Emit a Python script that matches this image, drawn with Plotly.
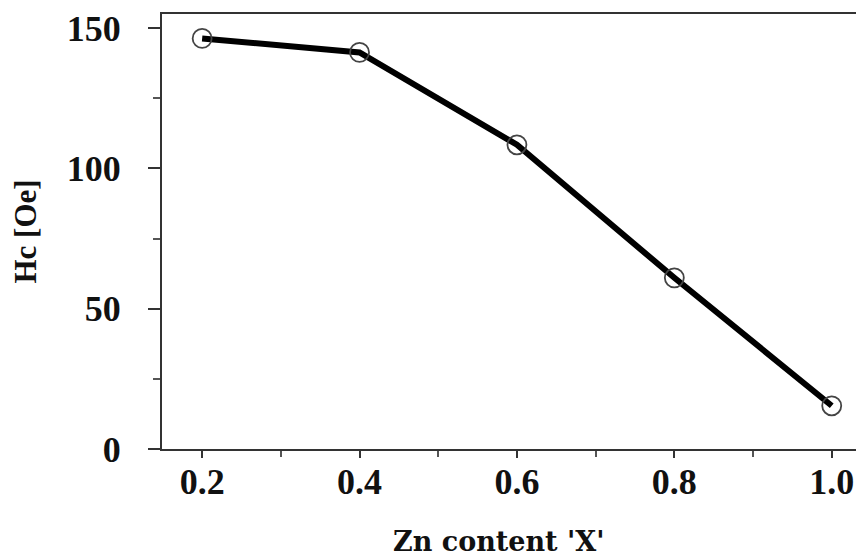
import plotly.graph_objects as go

zn_content = [0.2, 0.4, 0.6, 0.8, 1.0]
hc_oe = [146.3, 141.3, 108.4, 61.0, 15.4]
x_ticks = [0.2, 0.4, 0.6, 0.8, 1.0]
x_tick_labels = ["0.2", "0.4", "0.6", "0.8", "1.0"]
y_ticks = [0, 50, 100, 150]
y_tick_labels = ["0", "50", "100", "150"]
x_title = "Zn content 'X'"
y_title = "Hc [Oe]"

font_family = "Liberation Serif"
tick_font = dict(size=36, family=font_family, color="#111111", weight="bold")
x_range = [0.149, 1.041]

fig = go.Figure()
fig.add_trace(go.Scatter(
    x=zn_content, y=hc_oe,
    mode="lines+markers",
    line=dict(color="black", width=6),
    marker=dict(symbol="circle-open", size=19, color="#444444",
                line=dict(width=1.8, color="#444444")),
    showlegend=False,
))
# invisible helper trace to carry tick marks on a second x axis
fig.add_trace(go.Scatter(x=[], y=[], xaxis="x2", yaxis="y", showlegend=False))

fig.update_layout(
    width=856, height=549,
    margin=dict(l=154, r=0, t=6, b=108),
    paper_bgcolor="white", plot_bgcolor="white",
    font=dict(family=font_family, color="#111111"),
    xaxis=dict(
        range=x_range, automargin=False,
        tickmode="array", tickvals=x_ticks, ticktext=x_tick_labels,
        tickfont=tick_font,
        ticks="outside", ticklen=0, tickwidth=2, tickcolor="#333333",
        minor=dict(dtick=0.1, tick0=0.1, ticks="outside", ticklen=6, tickwidth=2, tickcolor="#555555", showgrid=False),
        showline=True, linecolor="#333333", linewidth=2, mirror=True,
        showgrid=False, zeroline=False,
    ),
    xaxis2=dict(
        range=x_range, overlaying="x", side="bottom", automargin=False,
        tickmode="array", tickvals=x_ticks, showticklabels=False,
        ticks="outside", ticklen=8, tickwidth=2, tickcolor="#333333",
        showline=False, showgrid=False, zeroline=False,
    ),
    yaxis=dict(
        range=[0, 155], automargin=False,
        tickmode="array", tickvals=y_ticks, ticktext=y_tick_labels,
        tickfont=tick_font,
        ticks="outside", ticklen=12, tickwidth=2, tickcolor="#333333",
        minor=dict(dtick=25, tick0=0, ticks="outside", ticklen=7, tickwidth=2, tickcolor="#555555", showgrid=False),
        showline=True, linecolor="#333333", linewidth=2, mirror=False,
        showgrid=False, zeroline=False,
        ticklabelstandoff=20,
        title=dict(text=y_title, font=dict(size=31, family=font_family, color="#111111", weight="bold"), standoff=24),
    ),
)
fig.add_annotation(
    text=x_title, xref="paper", yref="paper",
    x=(490 - 154) / 702, y=-(533 - 441) / 435,
    xanchor="center", yanchor="middle", showarrow=False,
    font=dict(size=27, family="DejaVu Serif", color="#111111", weight="bold"),
)

fig.write_html("out.html")
